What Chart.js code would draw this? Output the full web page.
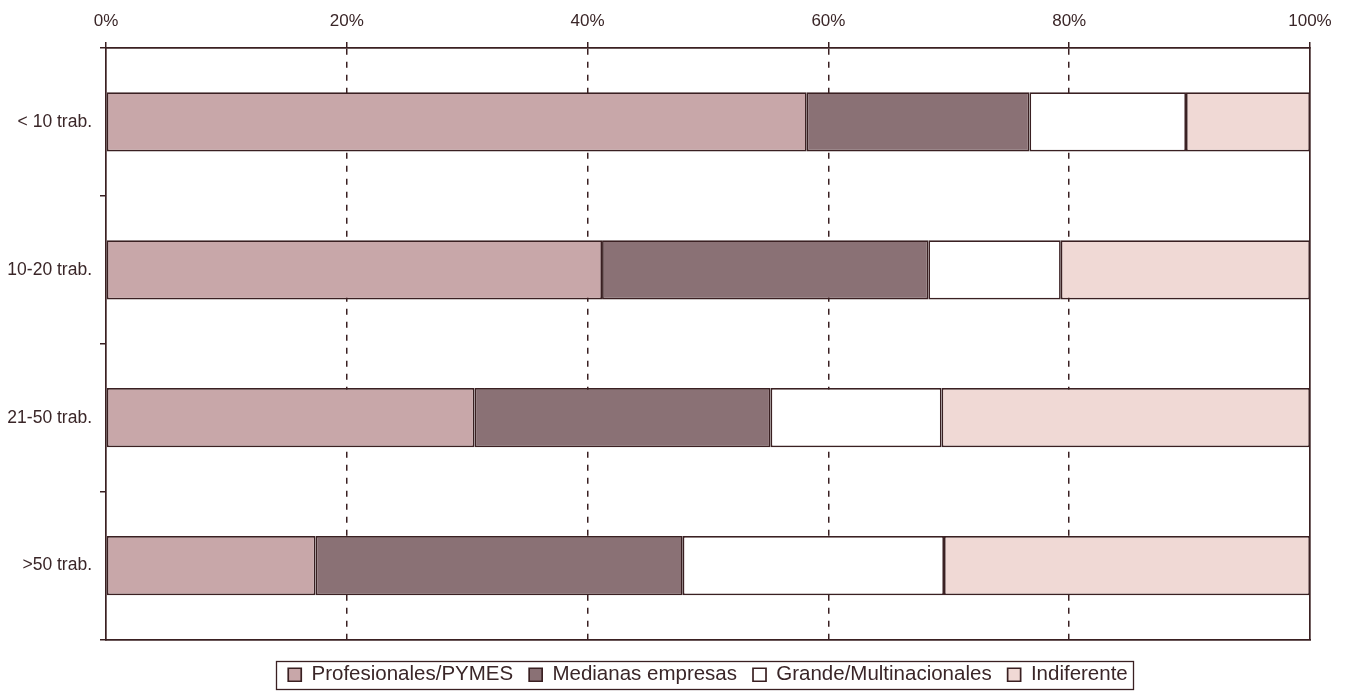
<!DOCTYPE html>
<html>
<head>
<meta charset="utf-8">
<script src="https://cdn.jsdelivr.net/npm/chart.js@4/dist/chart.umd.min.js"></script>
<style>
  html, body { margin: 0; padding: 0; background: #ffffff; }
  #wrap { width: 1345px; height: 700px; }
</style>
</head>
<body>
<div id="wrap"><canvas id="c" width="1345" height="700"></canvas></div>
<script>
const categories = ['< 10 trab.', '10-20 trab.', '21-50 trab.', '>50 trab.'];
const seriesNames = ['Profesionales/PYMES', 'Medianas empresas', 'Grande/Multinacionales', 'Indiferente'];
const profesionales = [58.2, 41.2, 30.6, 17.4];
const medianas = [18.5, 27.1, 24.6, 30.5];
const grandes = [13.0, 11.0, 14.2, 21.7];
const indiferente = [10.3, 20.7, 30.6, 30.4];
const xTicks = [0, 20, 40, 60, 80, 100];

const INK = '#3a2022';
const TEXT = '#3a2628';
const colors = ['#c8a7a9', '#8a7175', '#ffffff', '#f0d9d5'];
const seriesValues = [profesionales, medianas, grandes, indiferente];

const legendFrame = {
  id: 'legendFrame',
  afterDraw(chart) {
    const lg = chart.legend;
    if (!lg || !lg.legendHitBoxes || !lg.legendHitBoxes.length) return;
    const hb = lg.legendHitBoxes;
    let l = Infinity, r = -Infinity, t = Infinity, b = -Infinity;
    hb.forEach(h => { l = Math.min(l, h.left); r = Math.max(r, h.left + h.width); t = Math.min(t, h.top); b = Math.max(b, h.top + h.height); });
    const ctx = chart.ctx;
    ctx.save();
    ctx.strokeStyle = INK;
    ctx.lineWidth = 1.3;
    ctx.strokeRect(Math.round(l - 12) + 0.5, Math.round(t - 4) + 0.5, Math.round(r - l + 17), Math.round(b - t + 7));
    ctx.restore();
  }
};

new Chart(document.getElementById('c'), {
  type: 'bar',
  data: {
    labels: categories,
    datasets: seriesNames.map((n, i) => ({
      label: n,
      data: seriesValues[i],
      backgroundColor: colors[i],
      borderColor: INK,
      borderWidth: 1.7,
      borderSkipped: false,
      barPercentage: 0.4,
      categoryPercentage: 1.0
    }))
  },
  options: {
    indexAxis: 'y',
    responsive: false,
    animation: false,
    devicePixelRatio: 1,
    layout: { padding: { left: 0, right: 35, top: 0, bottom: 5 } },
    scales: {
      x: {
        type: 'linear',
        position: 'top',
        stacked: true,
        min: 0,
        max: 100,
        afterBuildTicks: s => { s.ticks = xTicks.map(v => ({ value: v })); },
        afterFit: s => { s.height = 48; },
        ticks: {
          callback: v => v + '%',
          color: TEXT,
          font: { family: 'Liberation Sans, Arial, sans-serif', size: 17 },
          padding: 10,
          maxRotation: 0
        },
        grid: {
          color: c => (c.tick && (c.tick.value === 0 || c.tick.value === 100)) ? 'rgba(0,0,0,0)' : INK,
          lineWidth: 1.5,
          tickColor: INK,
          tickLength: 6,
          tickWidth: 1.5
        },
        border: { display: true, color: INK, width: 1.7, dash: [6, 7] }
      },
      x2: {
        type: 'linear',
        position: 'bottom',
        min: 0,
        max: 100,
        display: true,
        afterFit: s => { s.height = 9; },
        ticks: { display: false },
        grid: { display: false, drawTicks: false },
        border: { display: true, color: INK, width: 1.7 }
      },
      y: {
        type: 'category',
        stacked: true,
        afterFit: s => { s.width = 106; },
        ticks: {
          color: TEXT,
          font: { family: 'Liberation Sans, Arial, sans-serif', size: 17.5 },
          padding: 8
        },
        grid: {
          offset: true,
          drawOnChartArea: false,
          color: INK,
          tickLength: 6,
          lineWidth: 1.5
        },
        border: { display: true, color: INK, width: 1.7 }
      },
      y2: {
        type: 'category',
        position: 'right',
        display: true,
        afterFit: s => { s.width = 0; },
        ticks: { display: false },
        grid: { display: false, drawTicks: false },
        border: { display: true, color: INK, width: 1.7 }
      }
    },
    plugins: {
      tooltip: { enabled: false },
      legend: {
        position: 'bottom',
        fullSize: false,
        labels: {
          color: TEXT,
          boxWidth: 13,
          boxHeight: 13,
          padding: 16,
          font: { family: 'Liberation Sans, Arial, sans-serif', size: 20.5 }
        }
      }
    }
  },
  plugins: [legendFrame]
});
</script>
</body>
</html>
